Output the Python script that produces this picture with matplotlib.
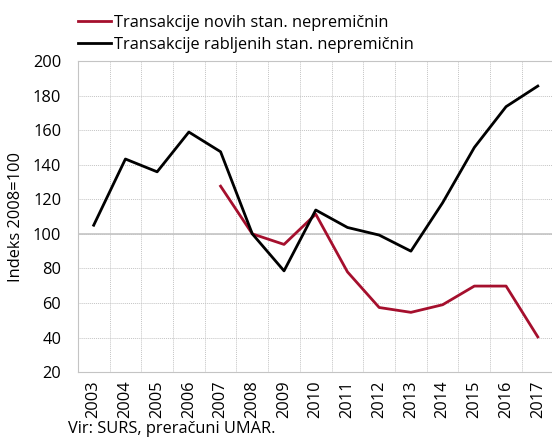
import matplotlib.pyplot as plt
import numpy as np

plt.rcParams['font.family'] = ['Open Sans', 'DejaVu Sans']

years = [str(y) for y in range(2003, 2018)]
new_years = years[4:]
new_vals = [127.6, 100, 93.9, 111.4, 78, 57.4, 54.6, 59, 69.8, 69.8, 40.4]
used_vals = [105, 143.3, 135.9, 158.9, 147.5, 100, 78.6, 113.8, 103.7, 99.3, 90, 118, 150, 173.6, 185.5]

red = '#a50f2d'
fs = 11.8

fig = plt.figure(figsize=(5.52, 4.42), dpi=100)
ax = fig.add_axes([0.141, 0.158, 0.862, 0.704])

x = np.arange(len(years))
xn = np.arange(4, len(years))
ax.plot(xn, new_vals, color=red, lw=2, label='Transakcije novih stan. nepremičnin', zorder=3)
ax.plot(x, used_vals, color='black', lw=2, label='Transakcije rabljenih stan. nepremičnin', zorder=3)

ax.set_xlim(-0.5, len(years) - 0.5)
ax.set_ylim(20, 200)
ax.set_yticks(range(20, 201, 20))
ax.set_xticks(x)
ax.set_xticklabels(years, rotation=90)
ax.set_xticks(np.arange(0.5, len(years) - 1, 1), minor=True)

ax.grid(axis='y', which='major', color='#c4c4c4', ls=(0, (1, 1)), lw=0.7)
ax.grid(axis='x', which='minor', color='#c4c4c4', ls=(0, (1, 1)), lw=0.7)
ax.axhline(100, color='#c4c4c4', lw=1.2, zorder=2)

for s in ax.spines.values():
    s.set_color('#c4c4c4')
ax.tick_params(which='both', length=0, labelsize=fs)
ax.tick_params(axis='y', pad=12)
ax.tick_params(axis='x', pad=6)

ax.set_ylabel('Indeks 2008=100', fontsize=fs, labelpad=6)

ax.legend(loc='lower left', bbox_to_anchor=(-0.02, 0.995), frameon=False, fontsize=fs,
          handlelength=2.0, handletextpad=0.2, labelspacing=0.35, borderaxespad=0.2)

fig.text(0.123, 0.02, 'Vir: SURS, preračuni UMAR.', fontsize=fs)

plt.savefig('out.png', dpi=100)
